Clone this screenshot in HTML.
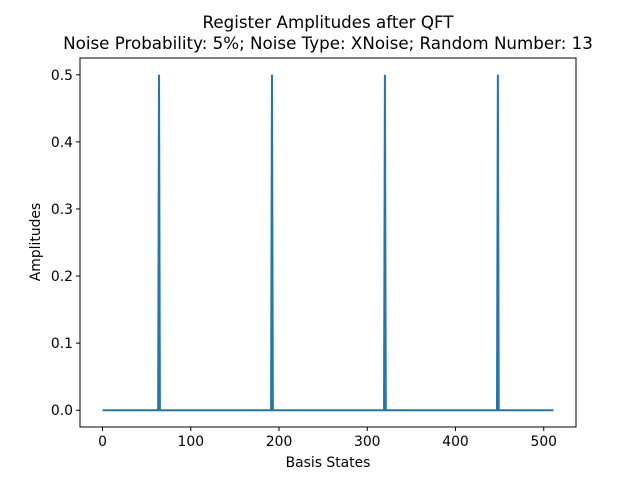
<!DOCTYPE html>
<html><head><meta charset="utf-8"><style>
body{margin:0;background:#fff}
svg{font-family:"DejaVu Sans","Liberation Sans",sans-serif}
</style></head><body>
<svg id="chart" width="640" height="480">
<rect width="640" height="480" fill="#fff"/>
<text x="328" y="28" text-anchor="middle" font-size="16.7">Register Amplitudes after QFT</text>
<text x="328" y="49" text-anchor="middle" font-size="16.7">Noise Probability: 5%; Noise Type: XNoise; Random Number: 13</text>
<g id="ticks"></g>
<path id="series" fill="none" stroke="#1f77b4" stroke-width="2"/>
<rect x="80" y="58" width="496" height="369" fill="none" stroke="#000" stroke-width="1"/>
<text x="328" y="467" text-anchor="middle" font-size="13.9">Basis States</text>
<text transform="translate(40,242) rotate(-90)" text-anchor="middle" font-size="13.9">Amplitudes</text>
</svg>
<script>
const numStates = 512;
const peakStates = [64, 192, 320, 448];
const peakValues = [0.5, 0.5, 0.5, 0.5];
const xTicks = [0, 100, 200, 300, 400, 500];
const yTicks = [0.0, 0.1, 0.2, 0.3, 0.4, 0.5];
const yTickLabels = ["0.0", "0.1", "0.2", "0.3", "0.4", "0.5"];

const L=80,R=576,T=58,B=427;
const xmin=-0.05*(numStates-1), xmax=(numStates-1)*1.05;
const ymin=-0.025, ymax=0.525;
const sx=v=>L+(v-xmin)/(xmax-xmin)*(R-L);
const sy=v=>B-(v-ymin)/(ymax-ymin)*(B-T);
const NS="http://www.w3.org/2000/svg";
const g=document.getElementById('ticks');
function mk(t,a){const e=document.createElementNS(NS,t);for(const k in a)e.setAttribute(k,a[k]);g.appendChild(e);return e;}
xTicks.forEach(v=>{
  const l=mk('line',{x1:sx(v),x2:sx(v),y1:B,y2:B+4,stroke:'#000'});
  
  
  const t=mk('text',{x:sx(v),y:B+19,'text-anchor':'middle','font-size':13.9});
  t.textContent=v;
  
  
});
yTicks.forEach((v,i)=>{
  const l=mk('line',{x1:L-4,x2:L,y1:sy(v),y2:sy(v),stroke:'#000'});
  
  
  const t=mk('text',{x:L-7,y:sy(v)+5,'text-anchor':'end','font-size':13.9});
  t.textContent=yTickLabels[i];
  
  
});
const vals=new Array(numStates).fill(0);
peakStates.forEach((s,i)=>vals[s]=peakValues[i]);
let d='';
vals.forEach((v,i)=>{d+=(i?'L':'M')+sx(i).toFixed(2)+','+sy(v).toFixed(2);});
document.getElementById('series').setAttribute('d',d);
</script>
</body></html>
